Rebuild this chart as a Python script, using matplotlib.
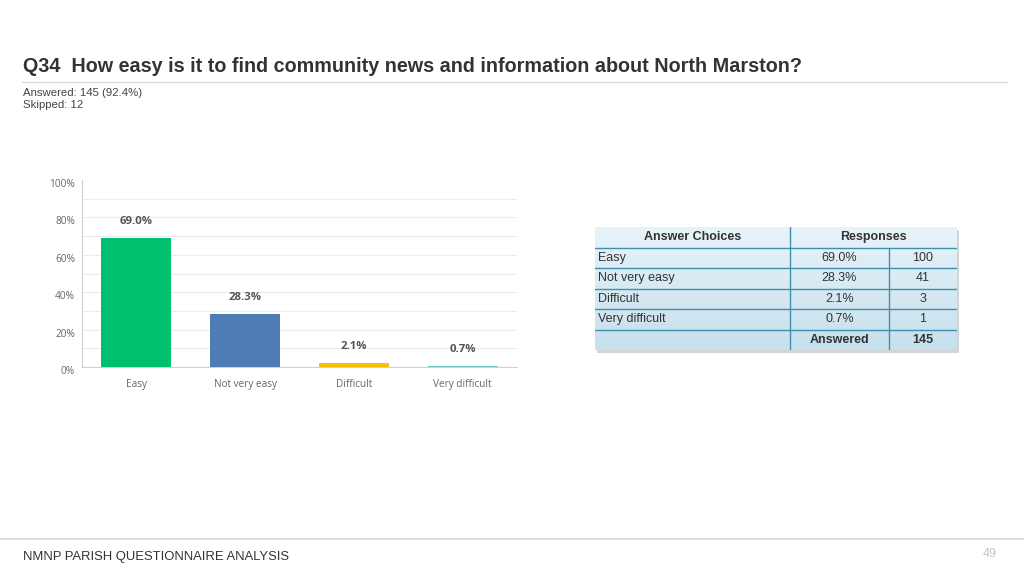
import matplotlib
matplotlib.use("Agg")
import matplotlib.pyplot as plt
import numpy as np
from matplotlib.patches import Rectangle
from matplotlib.transforms import ScaledTranslation
from matplotlib.colors import LinearSegmentedColormap

# ---------------- data ----------------
title = "Q34  How easy is it to find community news and information about North Marston?"
answered_text = "Answered: 145 (92.4%)"
skipped_text = "Skipped: 12"
categories = ["Easy", "Not very easy", "Difficult", "Very difficult"]
percentages = [69.0, 28.3, 2.1, 0.7]
counts = [100, 41, 3, 1]
total_answered = 145
y_ticks = [0, 20, 40, 60, 80, 100]
footer_text = "NMNP PARISH QUESTIONNAIRE ANALYSIS"
page_number = "49"
bar_colors = ["#00BF6F", "#507CB6", "#F9BE00", "#6BC8CD"]

W, H = 1024, 576
fig = plt.figure(figsize=(W / 100, H / 100), dpi=100)
fig.patch.set_facecolor("white")

def fx(px):
    return px / W

def fy(py):
    return 1 - py / H

hfam = ["Liberation Sans", "DejaVu Sans"]
cfam = ["Open Sans", "DejaVu Sans"]

# ---------------- header ----------------
fig.text(fx(23), fy(66.5), title, fontsize=14.25, fontweight="bold", color="#333333",
         family=hfam, va="center", ha="left")
fig.add_artist(plt.Line2D([fx(22), fx(1007)], [fy(81.5), fy(81.5)], color="#d9d9d9", lw=0.9))
fig.text(fx(23), fy(92.5), answered_text, fontsize=8.2, color="#444444",
         family=hfam, va="center", ha="left")
fig.text(fx(23), fy(105.5), skipped_text, fontsize=8.2, color="#444444",
         family=hfam, va="center", ha="left")

# ---------------- bar chart ----------------
ax_left, ax_right = 82, 517
ax_top, ax_bottom = 180, 367
ax = fig.add_axes([fx(ax_left), fy(ax_bottom), fx(ax_right - ax_left), (ax_bottom - ax_top) / H])
x = np.arange(len(categories))
ax.bar(x, percentages, width=0.645, color=bar_colors, zorder=3)
ax.set_xlim(-0.5, len(categories) - 0.5)
ax.set_ylim(0, 100)
ax.set_yticks(y_ticks)
ax.set_yticklabels([f"{t}%" for t in y_ticks])
for g in range(10, 100, 10):
    ax.axhline(g, color="#ececec", lw=0.8, zorder=1)
for s in ["top", "right"]:
    ax.spines[s].set_visible(False)
ax.spines["left"].set_color("#d0d0d0")
ax.spines["bottom"].set_color("#d0d0d0")
ax.spines["left"].set_linewidth(0.8)
ax.spines["bottom"].set_linewidth(0.8)
ax.tick_params(axis="both", length=0, labelcolor="#666666")
ax.tick_params(axis="y", labelsize=7.3, pad=5)
ax.tick_params(axis="x", labelsize=7.2, pad=8.5)
ax.set_xticks(x)
ax.set_xticklabels(categories)
for lab in ax.get_xticklabels() + ax.get_yticklabels():
    lab.set_family(cfam)
shift = ScaledTranslation(0, -3 / 100, fig.dpi_scale_trans)
for lab in ax.get_yticklabels():
    lab.set_transform(lab.get_transform() + shift)
for xi, p in zip(x, percentages):
    ax.annotate(f"{p:.1f}%", (xi, p), xytext=(0, 12), textcoords="offset points",
                ha="center", va="center", fontsize=8.2, fontweight="bold", color="#555555",
                family=cfam)

# ---------------- table ----------------
t_left, t_right, t_top, t_bottom = 595, 957, 227, 350
tw = t_right - t_left
th = t_bottom - t_top
# shadow axes behind the table
sax = fig.add_axes([fx(t_left + 2), fy(t_bottom + 3), fx(tw), th / H], zorder=1)
sax.axis("off")
sax.add_patch(Rectangle((0, 0), 1, 1, transform=sax.transAxes, facecolor="#d4d4d4",
                        edgecolor="none"))
tax = fig.add_axes([fx(t_left), fy(t_bottom), fx(tw), th / H], zorder=2)
n_rows = len(categories) + 2
grad = np.linspace(0, 1, 200)[:, None]
cmap = LinearSegmentedColormap.from_list("tbl", ["#e8f3f9", "#c6e0ed"])
tax.imshow(grad, aspect="auto", cmap=cmap, extent=[0, tw, n_rows, 0], zorder=0)
tax.set_xlim(0, tw)
tax.set_ylim(n_rows, 0)
tax.axis("off")
col_x = [0, 195, 294, tw]
line_c = "#3f8fae"
for r in range(1, n_rows):
    tax.plot([0, tw], [r, r], color=line_c, lw=1.0, zorder=2)
tax.plot([col_x[1], col_x[1]], [0, n_rows], color=line_c, lw=1.0, zorder=2)
tax.plot([col_x[2], col_x[2]], [1, n_rows], color=line_c, lw=1.0, zorder=2)
tfs = 9
tc = "#333333"
tax.text((col_x[0] + col_x[1]) / 2, 0.5, "Answer Choices", ha="center", va="center",
         fontsize=tfs, fontweight="bold", color=tc, family=hfam)
tax.text((col_x[1] + col_x[3]) / 2, 0.5, "Responses", ha="center", va="center",
         fontsize=tfs, fontweight="bold", color=tc, family=hfam)
for i, (c, p, n) in enumerate(zip(categories, percentages, counts)):
    yy = i + 1.5
    tax.text(3, yy, c, ha="left", va="center", fontsize=tfs, color=tc, family=hfam)
    tax.text((col_x[1] + col_x[2]) / 2, yy, f"{p:.1f}%", ha="center", va="center",
             fontsize=tfs, color=tc, family=hfam)
    tax.text((col_x[2] + col_x[3]) / 2, yy, str(n), ha="center", va="center",
             fontsize=tfs, color=tc, family=hfam)
yy = n_rows - 0.5
tax.text((col_x[1] + col_x[2]) / 2, yy, "Answered", ha="center", va="center",
         fontsize=tfs, fontweight="bold", color=tc, family=hfam)
tax.text((col_x[2] + col_x[3]) / 2, yy, str(total_answered), ha="center", va="center",
         fontsize=tfs, fontweight="bold", color=tc, family=hfam)

# ---------------- footer ----------------
fig.add_artist(plt.Line2D([0, 1], [fy(539), fy(539)], color="#d4d4d4", lw=1.2))
fig.text(fx(23), fy(557), footer_text, fontsize=9.4, color="#333333",
         family=hfam, va="center", ha="left")
fig.text(fx(997), fy(554), page_number, fontsize=9, color="#c4c4c4",
         family=hfam, va="center", ha="right")

fig.savefig("out.png", dpi=100, facecolor="white")
